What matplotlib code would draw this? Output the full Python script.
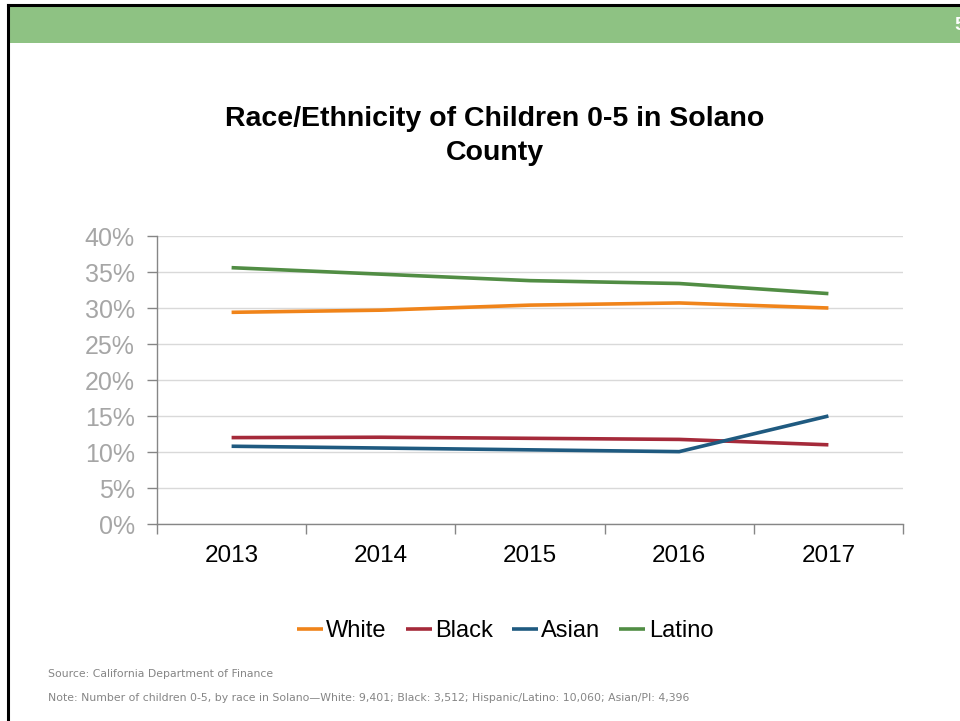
import matplotlib
matplotlib.use("Agg")
import matplotlib.pyplot as plt
from matplotlib.patches import Rectangle
from matplotlib.lines import Line2D
from matplotlib.ticker import FixedLocator, PercentFormatter

# data (percent of children 0-5)
years = ["2013", "2014", "2015", "2016", "2017"]
white = [29.4, 29.7, 30.4, 30.7, 30.0]
black = [12.0, 12.05, 11.9, 11.75, 11.0]
asian = [10.8, 10.55, 10.3, 10.05, 15.0]
latino = [35.6, 34.7, 33.8, 33.4, 32.0]

series_names = ["White", "Black", "Asian", "Latino"]
series_colors = ["#F0841A", "#A52A3A", "#1F5A80", "#518D44"]

plt.rcParams['font.family'] = ['Liberation Sans', 'DejaVu Sans']

W, H = 960, 721
fig = plt.figure(figsize=(W / 100, H / 100), dpi=100)

# slide frame: green header band and black border
fig.add_artist(Rectangle((9.5 / W, 1 - 43 / H), 1, 36 / H, transform=fig.transFigure,
                         facecolor="#8EC283", edgecolor="none"))
fig.add_artist(Line2D([7.5 / W, 1], [1 - 5 / H, 1 - 5 / H], transform=fig.transFigure,
                      color="black", lw=2.2))
fig.add_artist(Line2D([8 / W, 8 / W], [0, 1 - 5 / H], transform=fig.transFigure,
                      color="black", lw=2.2))
# slide number, cut by the right edge as on the slide
fig.text(954 / W, 1 - 26 / H, "5", color="white", fontsize=14, fontweight="bold",
         ha="left", va="center")

fig.text(495 / W, 1 - 136 / H, "Race/Ethnicity of Children 0-5 in Solano\nCounty",
         ha="center", va="center", fontsize=20.5, fontweight="bold", linespacing=1.38)

ax = fig.add_axes([157 / W, 1 - 524 / H, (903 - 157) / W, (524 - 236) / H])
x = list(range(len(years)))
for vals, name, col in zip([white, black, asian, latino], series_names, series_colors):
    ax.plot(x, vals, color=col, lw=2.6, label=name, solid_capstyle="butt")

ax.set_xlim(-0.5, len(years) - 0.5)
ax.set_ylim(0, 40)
ax.set_yticks(range(0, 41, 5))
ax.yaxis.set_major_formatter(PercentFormatter(decimals=0))
ax.grid(axis="y", color="#D9D9D9", lw=1)
ax.set_axisbelow(True)

ax.xaxis.set_major_locator(FixedLocator([i - 0.5 for i in range(len(years) + 1)]))
ax.xaxis.set_minor_locator(FixedLocator(x))
ax.set_xticklabels([], minor=False)
ax.set_xticklabels(years, minor=True)
ax.tick_params(axis="x", which="major", length=7, color="#868686", width=1)
ax.tick_params(axis="x", which="minor", length=0, pad=15, labelsize=17.5, labelcolor="black")
ax.tick_params(axis="y", length=7, color="#868686", width=1, labelsize=18,
               labelcolor="#A6A6A6", pad=9)

for s in ["top", "right"]:
    ax.spines[s].set_visible(False)
for s in ["left", "bottom"]:
    ax.spines[s].set_color("#868686")
    ax.spines[s].set_linewidth(1)

fig.legend(loc="center", bbox_to_anchor=(505 / W, 1 - 631 / H), ncol=4, frameon=False,
           fontsize=17, handlelength=1.1, handletextpad=0.15, columnspacing=0.8,
           borderaxespad=0)

fig.text(48 / W, 1 - 674 / H, "Source: California Department of Finance",
         fontsize=7.85, color="#858585", family=["DejaVu Sans"], va="center")
fig.text(48 / W, 1 - 698 / H,
         "Note: Number of children 0-5, by race in Solano\u2014White: 9,401; Black: 3,512; "
         "Hispanic/Latino: 10,060; Asian/PI: 4,396",
         fontsize=7.85, color="#858585", family=["DejaVu Sans"], va="center")

fig.savefig("out.png", dpi=100)
